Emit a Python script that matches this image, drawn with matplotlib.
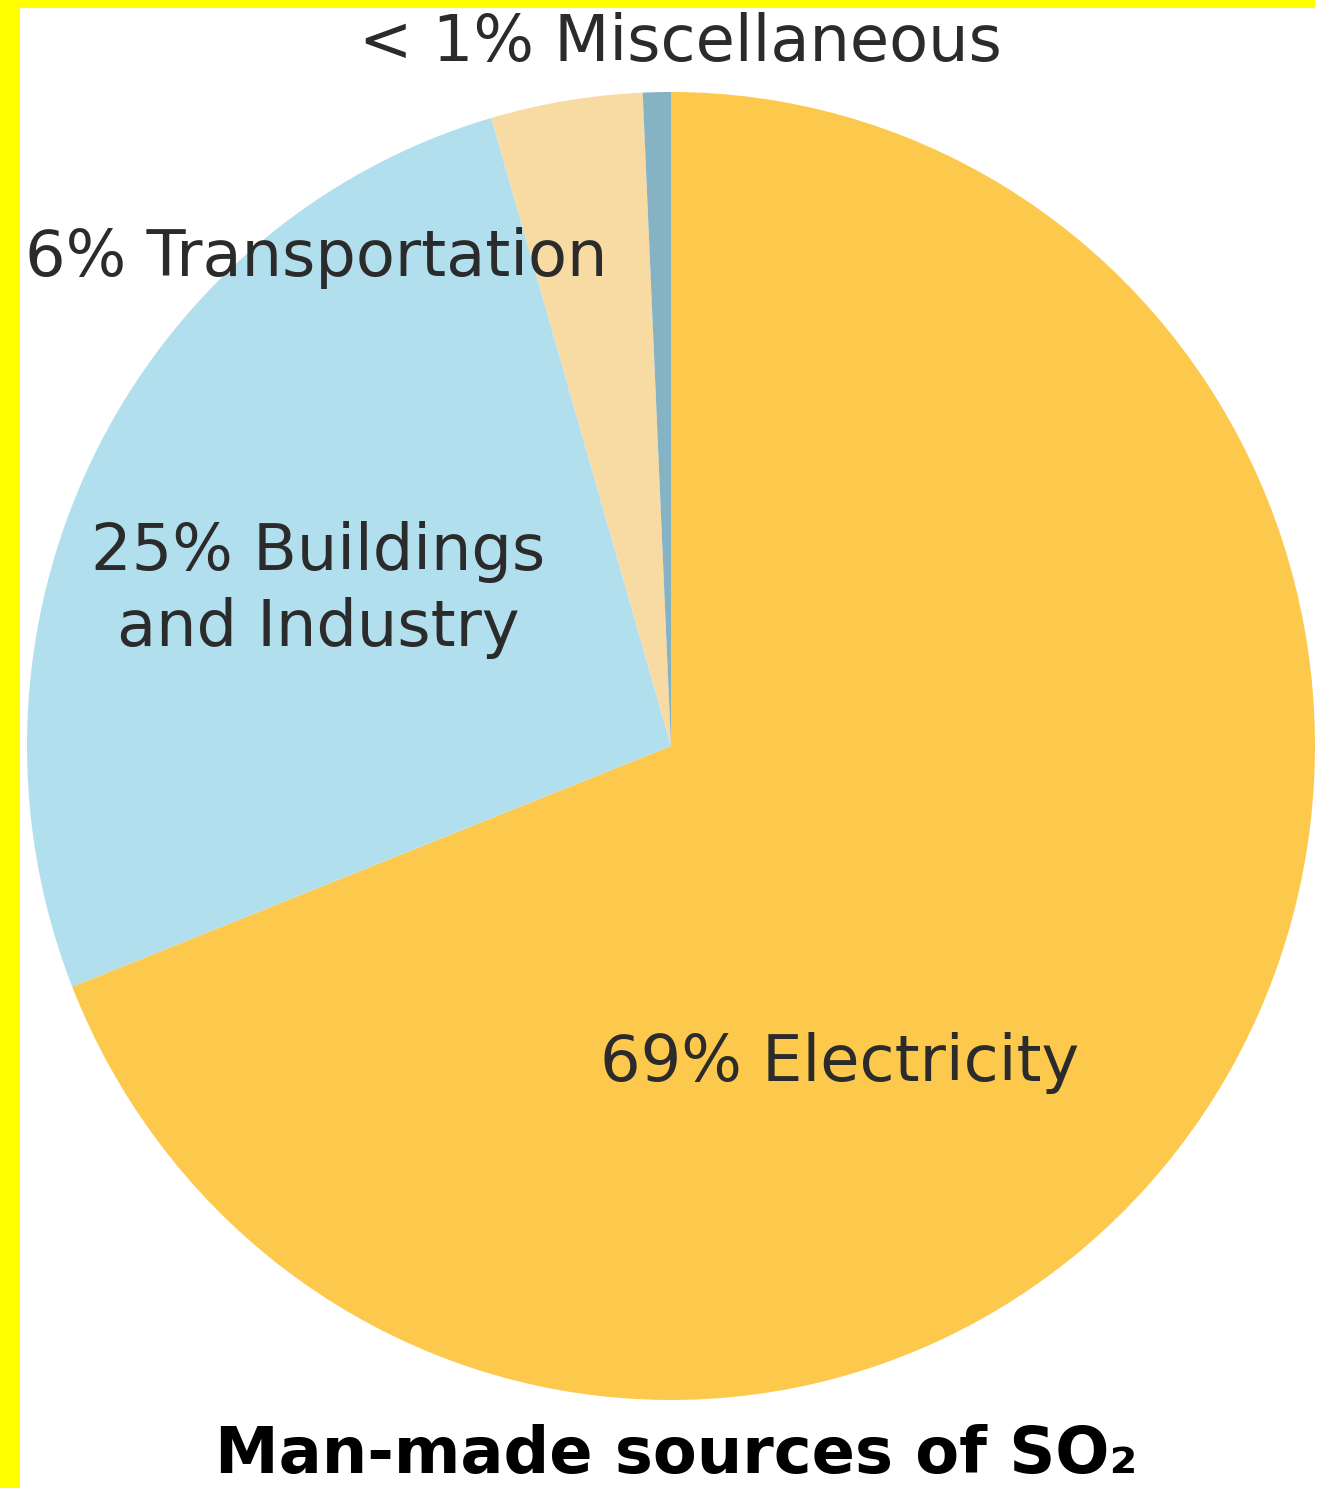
import matplotlib
matplotlib.use("Agg")
import matplotlib.pyplot as plt
from matplotlib.patches import Rectangle

# Data (shares as drawn in the picture, labels as printed)
categories = ["Electricity", "Buildings and Industry", "Transportation", "Miscellaneous"]
shares = [69.0, 26.5, 3.8, 0.7]
label_texts = ["69% Electricity", "25% Buildings\nand Industry", "6% Transportation", "< 1% Miscellaneous"]
colors = ["#FDC94D", "#B2DFEE", "#F7DBA3", "#86B3C4"]
title = "Man-made sources of SO\u2082"

W, H = 1323, 1488
fig = plt.figure(figsize=(W / 100, H / 100), dpi=100)
fig.patch.set_facecolor("white")

# pie axes: unit pie, limits chosen so that the pie lands at the right pixels
pax = fig.add_axes([0, 0, 1, 1])
cx, cy, rx, ry = 671, 746, 644, 654
pax.pie(shares, colors=colors, startangle=90, counterclock=False,
        radius=1, frame=True, wedgeprops=dict(linewidth=0))
pax.set_aspect("auto")
pax.set_xlim(-cx / rx, (W - cx) / rx)
pax.set_ylim(-(H - cy) / ry, cy / ry)
pax.axis("off")

# overlay axes for text, in pixel coordinates (y downward)
ax = fig.add_axes([0, 0, 1, 1])
ax.set_xlim(0, W)
ax.set_ylim(H, 0)
ax.axis("off")
ax.patch.set_alpha(0)

txt_color = "#2b2b2b"
fs = 46
ax.text(680, 43, label_texts[3], ha="center", va="center", fontsize=fs, color=txt_color)
ax.text(25, 258, label_texts[2], ha="left", va="center", fontsize=fs, color=txt_color)
ax.text(318, 590, label_texts[1], ha="center", va="center", fontsize=fs, color=txt_color,
        linespacing=1.3)
ax.text(840, 1063, label_texts[0], ha="center", va="center", fontsize=fs, color=txt_color)

ax.text(676, 1455, title, ha="center", va="center", fontsize=46, fontweight="bold",
        color="black")

# yellow frame strips
fig.patches.append(Rectangle((0, 1 - 8 / H), 1315 / W, 8 / H, transform=fig.transFigure,
                             facecolor="#FFFF00", edgecolor="none", zorder=10))
fig.patches.append(Rectangle((0, 0), 20 / W, 1, transform=fig.transFigure,
                             facecolor="#FFFF00", edgecolor="none", zorder=10))

fig.savefig("out.png", dpi=100, facecolor="white")
